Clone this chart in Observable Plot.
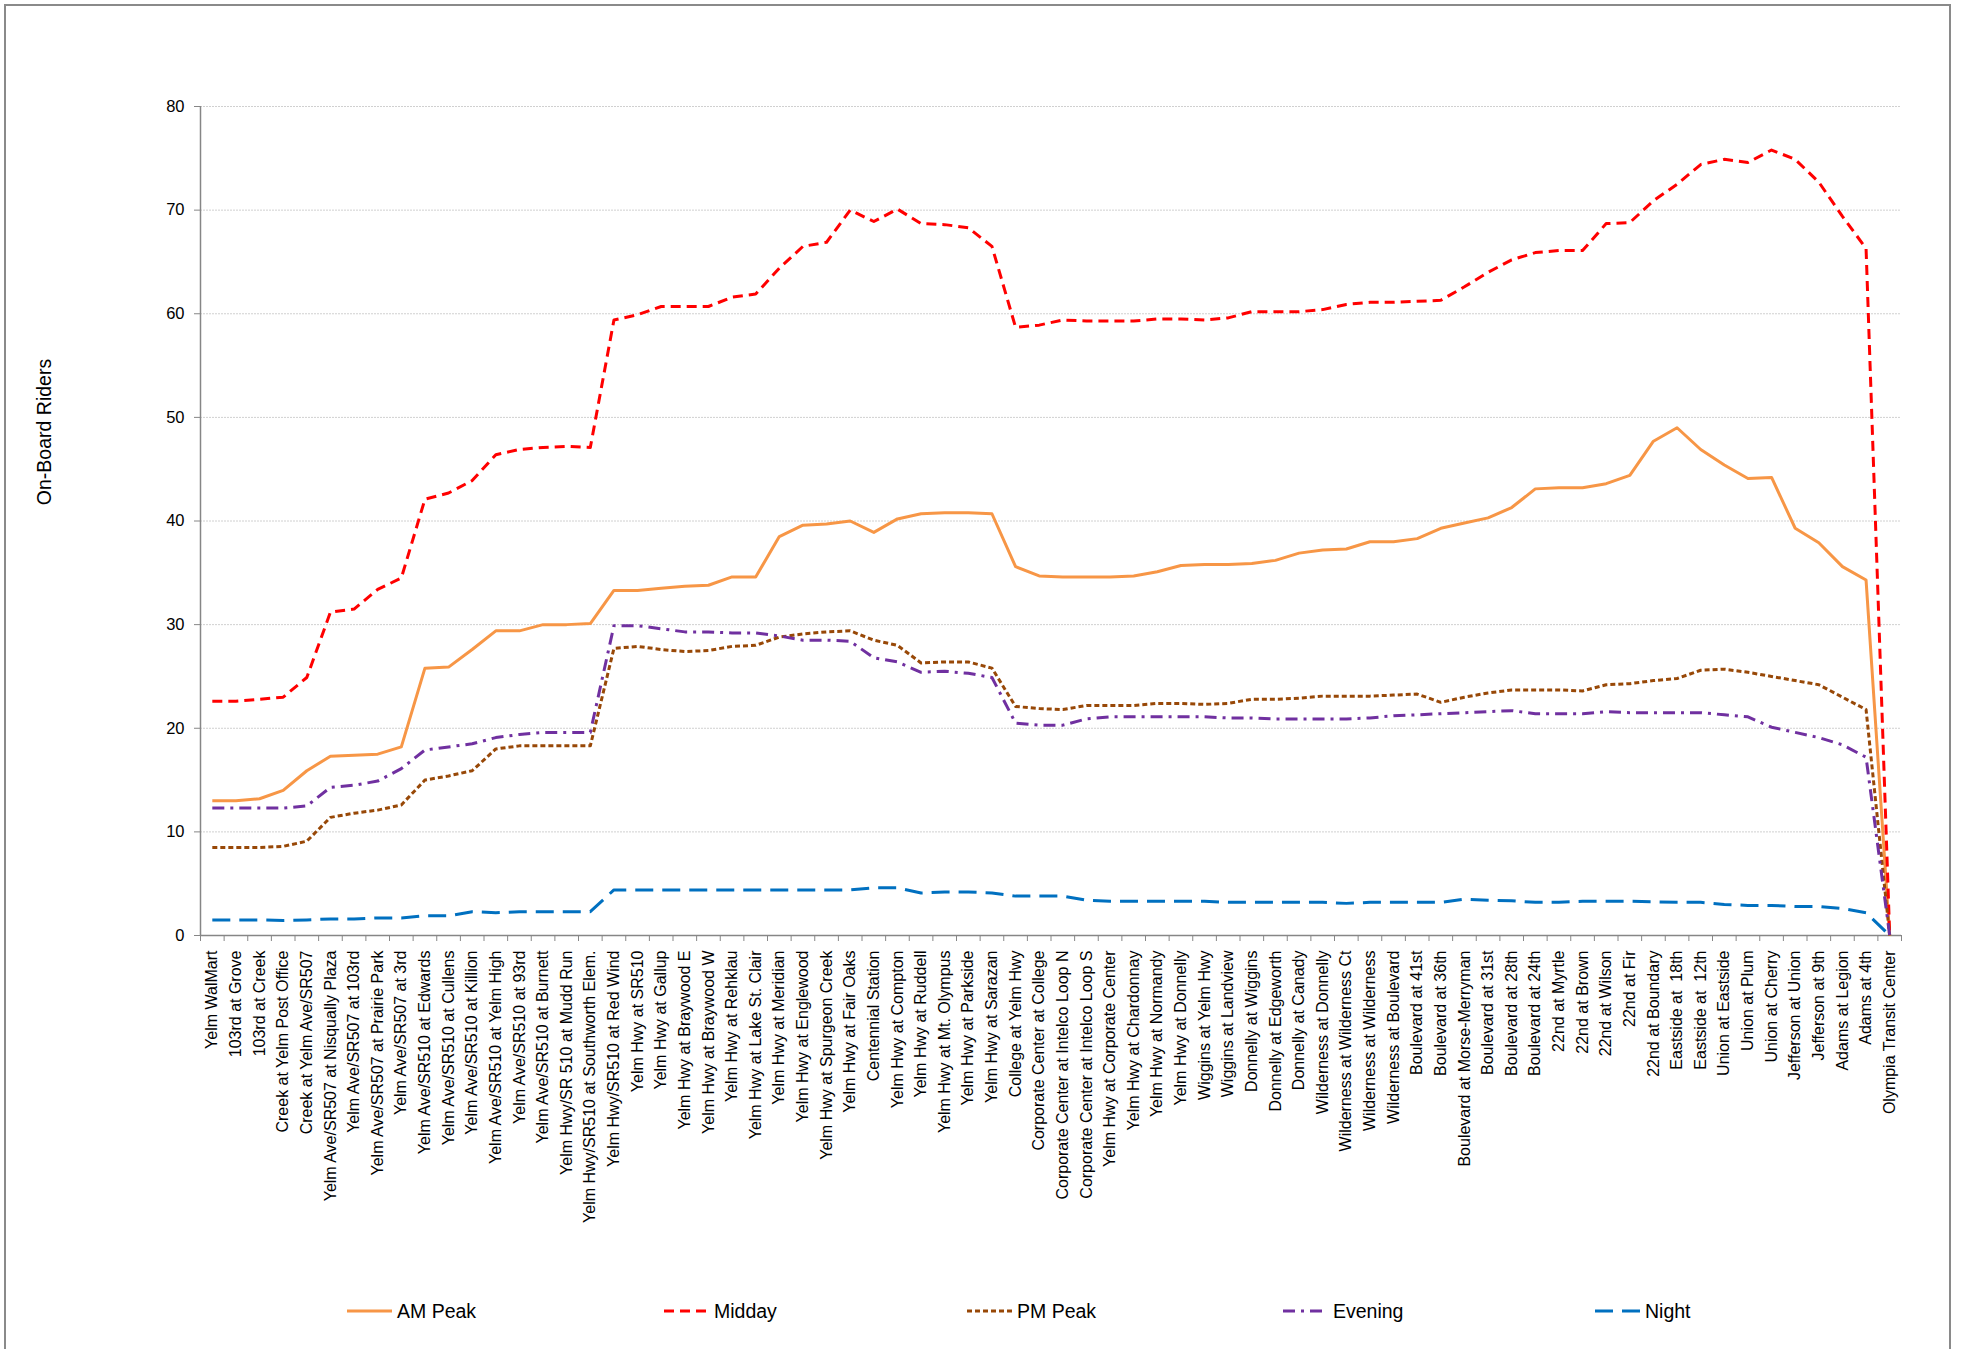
<!DOCTYPE html>
<html>
<head>
<meta charset="utf-8">
<script src="https://cdn.jsdelivr.net/npm/d3@7"></script>
<script src="https://cdn.jsdelivr.net/npm/@observablehq/plot@0.6"></script>
<style>
  html, body { margin: 0; padding: 0; background: #fff; }
  body { width: 1965px; height: 1349px; position: relative; overflow: hidden; font-family: "Liberation Sans", Arial, sans-serif; }
  #frame { position: absolute; left: 4px; top: 4px; width: 1947px; height: 1400px; border: 2px solid #8a8a8a; box-sizing: border-box; }
  #chart { position: absolute; left: 0; top: 0; }
  #ylabel { position: absolute; left: 44px; top: 432px; transform: translate(-50%, -50%) rotate(-90deg); font-size: 19.5px; white-space: nowrap; color: #000; }
  .leg { position: absolute; top: 1299px; display: flex; align-items: center; font-size: 19.5px; color: #000; white-space: nowrap; }
  .leg svg { margin-right: 5px; }
</style>
</head>
<body>
<div id="frame"></div>
<div id="chart"></div>
<div id="ylabel">On-Board Riders</div>
<div id="legend"></div>
<script>
const stops = [
  "Yelm WalMart", "103rd at Grove", "103rd at Creek", "Creek at Yelm Post Office", "Creek at Yelm Ave/SR507",
  "Yelm Ave/SR507 at Nisqually Plaza", "Yelm Ave/SR507 at 103rd", "Yelm Ave/SR507 at Prairie Park", "Yelm Ave/SR507 at 3rd",
  "Yelm Ave/SR510 at Edwards", "Yelm Ave/SR510 at Cullens", "Yelm Ave/SR510 at Killion", "Yelm Ave/SR510 at Yelm High",
  "Yelm Ave/SR510 at 93rd", "Yelm Ave/SR510 at Burnett", "Yelm Hwy/SR 510 at Mudd Run", "Yelm Hwy/SR510 at Southworth Elem.",
  "Yelm Hwy/SR510 at Red Wind", "Yelm Hwy at SR510", "Yelm Hwy at Gallup", "Yelm Hwy at Braywood E", "Yelm Hwy at Braywood W",
  "Yelm Hwy at Rehklau", "Yelm Hwy at Lake St. Clair", "Yelm Hwy at Meridian", "Yelm Hwy at Englewood", "Yelm Hwy at Spurgeon Creek",
  "Yelm Hwy at Fair Oaks", "Centennial Station", "Yelm Hwy at Compton", "Yelm Hwy at Ruddell", "Yelm Hwy at Mt. Olympus",
  "Yelm Hwy at Parkside", "Yelm Hwy at Sarazan", "College at Yelm Hwy", "Corporate Center at College",
  "Corporate Center at Intelco Loop N", "Corporate Center at Intelco Loop S", "Yelm Hwy at Corporate Center",
  "Yelm Hwy at Chardonnay", "Yelm Hwy at Normandy", "Yelm Hwy at Donnelly", "Wiggins at Yelm Hwy", "Wiggins at Landview",
  "Donnelly at Wiggins", "Donnelly at Edgeworth", "Donnelly at Canady", "Wilderness at Donnelly", "Wilderness at Wilderness Ct",
  "Wilderness at Wilderness", "Wilderness at Boulevard", "Boulevard at 41st", "Boulevard at 36th", "Boulevard at Morse-Merryman",
  "Boulevard at 31st", "Boulevard at 28th", "Boulevard at 24th", "22nd at Myrtle", "22nd at Brown", "22nd at Wilson", "22nd at Fir",
  "22nd at Boundary", "Eastside at  18th", "Eastside at  12th", "Union at Eastside", "Union at Plum", "Union at Cherry",
  "Jefferson at Union", "Jefferson at 9th", "Adams at Legion", "Adams at 4th", "Olympia Transit Center"
];

const amPeak = [13.0, 13.0, 13.2, 14.0, 15.9, 17.3, 17.4, 17.5, 18.2, 25.8, 25.9, 27.6, 29.4, 29.4, 30.0, 30.0, 30.1, 33.3,
  33.3, 33.5, 33.7, 33.8, 34.6, 34.6, 38.5, 39.6, 39.7, 40.0, 38.9, 40.2, 40.7, 40.8, 40.8, 40.7, 35.6, 34.7,
  34.6, 34.6, 34.6, 34.7, 35.1, 35.7, 35.8, 35.8, 35.9, 36.2, 36.9, 37.2, 37.3, 38.0, 38.0, 38.3, 39.3, 39.8,
  40.3, 41.3, 43.1, 43.2, 43.2, 43.6, 44.4, 47.7, 49.0, 46.9, 45.4, 44.1, 44.2, 39.3, 37.9, 35.6, 34.3, 0];
const midday = [22.6, 22.6, 22.8, 23.0, 24.9, 31.2, 31.5, 33.4, 34.5, 42.1, 42.7, 43.9, 46.4, 46.9, 47.1, 47.2, 47.1, 59.4,
  59.9, 60.7, 60.7, 60.7, 61.6, 61.9, 64.4, 66.5, 66.9, 70.0, 68.9, 70.1, 68.7, 68.6, 68.3, 66.5, 58.7, 58.9,
  59.4, 59.3, 59.3, 59.3, 59.5, 59.5, 59.4, 59.6, 60.2, 60.2, 60.2, 60.4, 60.9, 61.1, 61.1, 61.2, 61.3, 62.6,
  64.0, 65.2, 65.9, 66.1, 66.1, 68.7, 68.8, 70.9, 72.5, 74.4, 74.9, 74.6, 75.8, 74.9, 72.7, 69.4, 66.3, 0];
const pmPeak = [8.5, 8.5, 8.5, 8.6, 9.1, 11.4, 11.8, 12.1, 12.6, 15.0, 15.4, 15.9, 18.0, 18.3, 18.3, 18.3, 18.3, 27.7,
  27.9, 27.6, 27.4, 27.5, 27.9, 28.0, 28.8, 29.1, 29.3, 29.4, 28.5, 28.0, 26.3, 26.4, 26.4, 25.8, 22.1, 21.9,
  21.8, 22.2, 22.2, 22.2, 22.4, 22.4, 22.3, 22.4, 22.8, 22.8, 22.9, 23.1, 23.1, 23.1, 23.2, 23.3, 22.5, 23.0,
  23.4, 23.7, 23.7, 23.7, 23.6, 24.2, 24.3, 24.6, 24.8, 25.6, 25.7, 25.4, 25.0, 24.6, 24.2, 23.0, 21.8, 0];
const evening = [12.3, 12.3, 12.3, 12.3, 12.5, 14.3, 14.5, 14.9, 16.1, 17.9, 18.2, 18.5, 19.1, 19.4, 19.6, 19.6, 19.6, 29.9,
  29.9, 29.6, 29.3, 29.3, 29.2, 29.2, 28.9, 28.5, 28.5, 28.4, 26.8, 26.4, 25.4, 25.5, 25.3, 24.9, 20.5, 20.3,
  20.3, 20.9, 21.1, 21.1, 21.1, 21.1, 21.1, 21.0, 21.0, 20.9, 20.9, 20.9, 20.9, 21.0, 21.2, 21.3, 21.4, 21.5,
  21.6, 21.7, 21.4, 21.4, 21.4, 21.6, 21.5, 21.5, 21.5, 21.5, 21.3, 21.1, 20.1, 19.6, 19.1, 18.4, 17.2, 0];
const night = [1.5, 1.5, 1.5, 1.45, 1.5, 1.6, 1.6, 1.7, 1.7, 1.9, 1.9, 2.3, 2.2, 2.3, 2.3, 2.3, 2.3, 4.4,
  4.4, 4.4, 4.4, 4.4, 4.4, 4.4, 4.4, 4.4, 4.4, 4.4, 4.6, 4.6, 4.1, 4.2, 4.2, 4.1, 3.8, 3.8,
  3.8, 3.4, 3.3, 3.3, 3.3, 3.3, 3.3, 3.2, 3.2, 3.2, 3.2, 3.2, 3.1, 3.2, 3.2, 3.2, 3.2, 3.5,
  3.4, 3.35, 3.2, 3.2, 3.3, 3.3, 3.3, 3.25, 3.2, 3.2, 3.0, 2.9, 2.9, 2.8, 2.8, 2.6, 2.2, 0];

const seriesNames = ["AM Peak", "Midday", "PM Peak", "Evening", "Night"];
const seriesValues = [amPeak, midday, pmPeak, evening, night];
const seriesColors = ["#F79646", "#FF0000", "#984807", "#7030A0", "#0070C0"];
const seriesDashes = [null, "10,6", "5,3", "12,6,3,6", "18,9"];
const yTicks = [0, 10, 20, 30, 40, 50, 60, 70, 80];

const W = 1965, H = 1270, mL = 200, mR = 64, mT = 106, mB = 335;
const half = (W - mL - mR) / stops.length / 2;

const lineMarks = seriesNames.map((name, k) =>
  Plot.line(seriesValues[k].map((v, i) => ({stop: stops[i], riders: v})), {
    x: "stop", y: "riders",
    stroke: seriesColors[k], strokeWidth: 3,
    strokeDasharray: seriesDashes[k] || undefined,
    strokeLinejoin: "round", strokeLinecap: "butt"
  })
);

const chart = Plot.plot({
  width: W, height: H,
  marginLeft: mL, marginRight: mR, marginTop: mT, marginBottom: mB,
  style: {fontFamily: "'Liberation Sans', Arial, sans-serif", fontSize: "16px", color: "#000", background: "transparent"},
  x: {type: "point", domain: stops, padding: 0.5, label: null},
  y: {domain: [0, 80], label: null},
  marks: [
    Plot.gridY(yTicks, {stroke: "#d0d0d0", strokeOpacity: 1, strokeDasharray: "2,1"}),
    Plot.axisY(yTicks, {tickSize: 6, tickPadding: 10, fontSize: 16.5, stroke: "#868686", label: null}),
    Plot.axisX({tickRotate: -90, tickSize: 0, tickPadding: 15, fontSize: 16, label: null}),
    Plot.axisX(stops, {tickSize: 6, tickFormat: () => "", dx: -half, stroke: "#868686", label: null}),
    Plot.axisX([stops[stops.length - 1]], {tickSize: 6, tickFormat: () => "", dx: half, stroke: "#868686", label: null}),
    Plot.ruleY([0], {stroke: "#868686", strokeWidth: 1.5}),
    Plot.ruleX([stops[0]], {dx: -half, stroke: "#868686", strokeWidth: 1.5}),
    ...lineMarks
  ]
});
document.getElementById("chart").appendChild(chart);

// Legend below the chart
const legendLeft = [347, 664, 967, 1283, 1595];
const legend = document.getElementById("legend");
seriesNames.forEach((name, k) => {
  const item = document.createElement("div");
  item.className = "leg";
  item.style.left = legendLeft[k] + "px";
  const svg = d3.create("svg").attr("width", 45).attr("height", 24);
  svg.append("line").attr("x1", 0).attr("x2", 45).attr("y1", 12).attr("y2", 12)
    .attr("stroke", seriesColors[k]).attr("stroke-width", 3)
    .attr("stroke-dasharray", seriesDashes[k] || null);
  item.appendChild(svg.node());
  const span = document.createElement("span");
  span.textContent = name;
  item.appendChild(span);
  legend.appendChild(item);
});
</script>
</body>
</html>
